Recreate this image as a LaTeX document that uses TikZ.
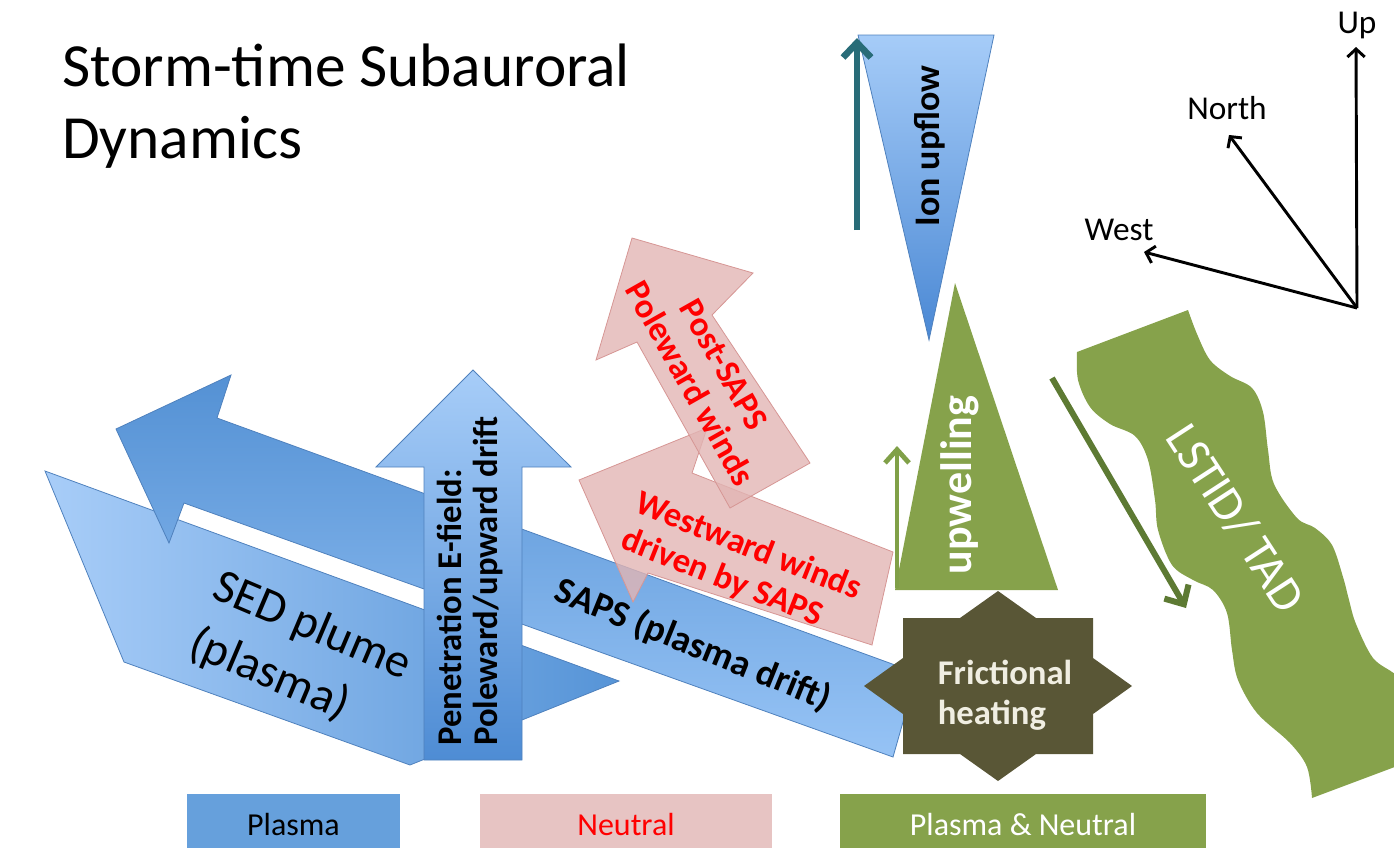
\documentclass[tikz,border=0pt]{standalone}
\usepackage{fontspec}
\setmainfont{Carlito}
\usetikzlibrary{arrows.meta}

\begin{document}
\begin{tikzpicture}[x=0.75pt,y=0.75pt,yscale=-1,xscale=1,
  plasmaarrow/.style={draw={rgb, 255:red, 79; green, 129; blue, 189 },line width=0.6},
  neutralarrow/.style={draw={rgb, 255:red, 214; green, 150; blue, 148 },fill={rgb, 255:red, 226; green, 181; blue, 180 },fill opacity=0.8,line width=0.6},
  boldlabel/.style={inner sep=0.75pt,font=\bfseries\fontsize{26}{29}\selectfont},
  windlabel/.style={boldlabel,text={rgb, 255:red, 255; green, 0; blue, 0 }},
  compasslabel/.style={inner sep=0.75pt,font=\fontsize{25}{30}\selectfont},
  compassarrow/.style={line width=2.2pt,-{Straight Barb[length=6pt,width=13pt]}},
  keybox/.style={inner sep=0pt,minimum height=45pt,font=\fontsize{24}{28}\selectfont}
]
\useasboundingbox (0,0) rectangle (1394,847);

%Shape: Wave [id:lstid] 
\fill [color={rgb, 255:red, 134; green, 162; blue, 75 }] (1077,352) -- (1188,310)
  -- plot [smooth,tension=0.55] coordinates {(1188,310) (1197,334) (1210,360) (1230,376) (1252,388) (1263,412) (1268,450) (1274,484) (1297,518) (1315,528) (1332,545) (1343,577) (1349,600) (1356,624) (1373,658) (1396,675) (1420,700) (1440,750)}
  -- (1312,798)
  -- plot [smooth,tension=0.55] coordinates {(1312,798) (1307,767) (1290,743) (1257,713) (1238,680) (1232,650) (1227,613) (1213,590) (1193,580) (1172,565) (1158,530) (1155,500) (1148,460) (1135,436) (1110,424) (1090,407) (1078,380) (1077,352)}
  -- cycle ;
%Straight Lines [id:tadarrow] 
\coordinate (tadbase) at (1052,378);
\coordinate (tadtip) at (1186,608);
\draw [color={rgb, 255:red, 93; green, 122; blue, 51 },line width=4.5pt,-{Straight Barb[length=11pt,width=21pt]}] (tadbase) -- (tadtip) ;

%Shape: Arrow [id:sedplume] 
\shade [plasmaarrow,left color={rgb, 255:red, 168; green, 205; blue, 248 },right color={rgb, 255:red, 86; green, 148; blue, 215 }] (45,471) -- (619,681) -- (410,765) -- (124,662) -- cycle ;
%Shape: Arrow [id:saps] 
\shade [plasmaarrow,top color={rgb, 255:red, 84; green, 145; blue, 212 },bottom color={rgb, 255:red, 150; green, 195; blue, 245 }] (116,429) -- (231,375) -- (217,418) -- (917,673) -- (893,757) -- (184,503) -- (169,543) -- cycle ;
%Shape: Up Arrow [id:penetration] 
\shade [plasmaarrow,top color={rgb, 255:red, 167; green, 205; blue, 248 },bottom color={rgb, 255:red, 78; green, 140; blue, 212 }] (473,370) -- (571,467) -- (522,467) -- (522,760) -- (424,760) -- (424,467) -- (376,467) -- cycle ;

%Shape: Arrow [id:westward] 
\draw [neutralarrow] (579,480) -- (707,428) -- (692,473) -- (893,552) -- (872,645) -- (648,573) -- (633,602) -- cycle ;
%Shape: Arrow [id:postsaps] 
\draw [neutralarrow] (632,238) -- (753,273) -- (712,315) -- (810,463) -- (730,508) -- (637,342) -- (596,360) -- cycle ;

%Shape: Triangle [id:ionupflow] 
\shade [plasmaarrow,top color={rgb, 255:red, 166; green, 204; blue, 248 },bottom color={rgb, 255:red, 74; green, 136; blue, 212 }] (858,35) -- (994,35) -- (929,340) -- cycle ;
%Straight Lines [id:ionarrow] 
\coordinate (ionbase) at (857,230);
\coordinate (iontip) at (857,38);
\draw [color={rgb, 255:red, 40; green, 108; blue, 120 },line width=5pt,-{Straight Barb[length=11pt,width=21pt]}] (ionbase) -- (iontip) ;

%Shape: Triangle [id:upwelling] 
\fill [color={rgb, 255:red, 134; green, 162; blue, 75 }] (955,283) -- (1058,590) -- (895,590) -- cycle ;
%Straight Lines [id:upwarrow] 
\coordinate (upwbase) at (897,588);
\coordinate (upwtip) at (897,446);
\draw [color={rgb, 255:red, 128; green, 160; blue, 72 },line width=3.6pt,-{Straight Barb[length=10pt,width=18pt]}] (upwbase) -- (upwtip) ;

%Shape: Star [id:friction] 
\fill [color={rgb, 255:red, 89; green, 86; blue, 54 }] (998,591) -- (1036,618) -- (1093,618) -- (1093,658) -- (1132,686) -- (1093,714) -- (1093,754) -- (1036,754) -- (998,781) -- (960,754) -- (903,754) -- (903,714) -- (864,686) -- (903,658) -- (903,618) -- (960,618) -- cycle ;

% Text Node
\draw (62,44) node (title) [anchor=north west][inner sep=0pt] [align=left,font=\fontsize{46}{54}\selectfont] {Storm-time Subauroral\\Dynamics};
% Text Node
\draw (300,655) node (sedtext) [inner sep=0.75pt] [rotate=-23,align=left,font=\fontsize{36}{46}\selectfont] {SED plume\\(plasma)};
% Text Node
\draw (470,581) node (pentext) [boldlabel] [rotate=90,align=left,font=\bfseries\fontsize{26}{27}\selectfont] {Penetration E-field:\\Poleward/upward drift};
% Text Node
\draw (693,645) node (sapstext) [boldlabel] [rotate=-22,font=\bfseries\fontsize{28}{32}\selectfont] {SAPS (plasma drift)};
% Text Node
\draw (741,565) node (westtext) [windlabel] [rotate=-21.6,align=left] {Westward winds\\driven by SAPS};
% Text Node
\draw (707,374) node (posttext) [windlabel] [rotate=-60.5,align=center] {Post-SAPS\\Poleward winds};
% Text Node
\draw (930,146) node (iontext) [boldlabel] [rotate=90,font=\bfseries\fontsize{27}{30}\selectfont] {Ion upflow};
% Text Node
\draw (960,485) node (upwtext) [boldlabel] [rotate=90,text=white,font=\bfseries\fontsize{33}{36}\selectfont] {upwelling};
% Text Node
\draw (1236,518) node (tadtext) [inner sep=0.75pt] [rotate=-57,text=white,font=\fontsize{36}{40}\selectfont] {LSTID/ TAD};
% Text Node
\draw (1005,695) node (frictext) [boldlabel] [align=left,text={rgb, 255:red, 240; green, 238; blue, 226 },font=\bfseries\fontsize{26}{30}\selectfont] {Frictional\\heating};

%Compass
\coordinate (origin) at (1357,308);
\coordinate (uptip) at (1356,47);
\coordinate (northtip) at (1229,135);
\coordinate (westtip) at (1144,252);
\draw [compassarrow] (origin) -- (uptip) ;
\draw [compassarrow] (origin) -- (northtip) ;
\draw [compassarrow] (origin) -- (westtip) ;
\draw (1357,25) node (up) [compasslabel] {Up};
\draw (1227,108) node (north) [compasslabel] {North};
\draw (1119,230) node (west) [compasslabel] {West};

%Legend
\draw (293.5,824) node (plasmakey) [keybox,minimum width=160pt,fill={rgb, 255:red, 102; green, 160; blue, 220 }] {Plasma};
\draw (626,824) node (neutralkey) [keybox,minimum width=219pt,fill={rgb, 255:red, 231; green, 196; blue, 195 },text={rgb, 255:red, 255; green, 0; blue, 0 }] {Neutral};
\draw (1023,824) node (bothkey) [keybox,minimum width=274.5pt,fill={rgb, 255:red, 134; green, 162; blue, 75 },text=white] {Plasma \& Neutral};

\end{tikzpicture}
\end{document}
